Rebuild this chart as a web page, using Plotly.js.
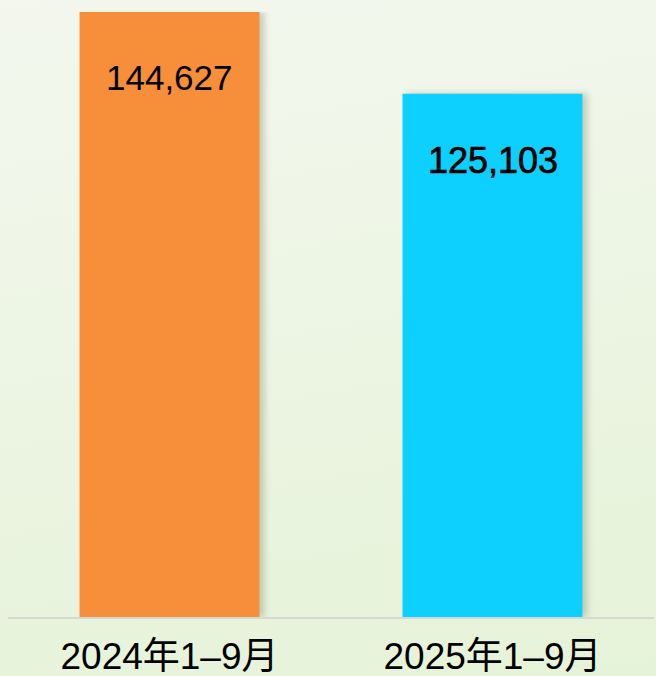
<!DOCTYPE html>
<html>
<head>
<meta charset="utf-8">
<script src="https://cdn.plot.ly/plotly-3.0.1.min.js"></script>
<style>
html, body { margin: 0; padding: 0; }
body { width: 656px; height: 676px; background: linear-gradient(170deg, #F3F7EE 0%, #EDF5E4 45%, #E5F3D8 100%); }
#chart { width: 656px; height: 676px; }
.trace.bars path { filter: drop-shadow(5px 0px 3px rgba(120,130,100,0.35)); }
g.annotation[data-index="1"] text { stroke: #000; stroke-width: 0.7px; }
</style>
</head>
<body>
<div id="chart"></div>
<script>
const categories = ["2024年1–9月", "2025年1–9月"];
const values = [144627, 125103];
const labels = ["144,627", "125,103"];
const colors = ["#F78F3A", "#0DD0FF"];
const labelSizes = [35, 36];

const FONT = "Liberation Sans, Arial, Noto Sans CJK SC, sans-serif";

const trace = {
  type: "bar",
  x: categories,
  y: values,
  marker: { color: colors, line: { width: 0 } },
  width: 0.557,
  hoverinfo: "none",
  textposition: "none"
};

const annotations = categories.map((c, i) => ({
  x: c, y: values[i], xref: "x", yref: "y",
  text: labels[i], showarrow: false,
  yanchor: "top", yshift: -44,
  font: { family: FONT, size: labelSizes[i], color: "#000" }
}));

const layout = {
  width: 656, height: 676,
  margin: { l: 8, r: 2, t: 12, b: 59 },
  paper_bgcolor: "rgba(0,0,0,0)",
  plot_bgcolor: "rgba(0,0,0,0)",
  showlegend: false,
  xaxis: {
    type: "category",
    range: [-0.5, 1.5],
    showline: true, linecolor: "#D6D9D3", linewidth: 2,
    showgrid: false, zeroline: false, ticks: "",
    ticklabelstandoff: 6,
    tickfont: { family: FONT, size: 37, color: "#000" },
    fixedrange: true
  },
  yaxis: {
    range: [0, 144627],
    visible: false, showgrid: false, zeroline: false,
    fixedrange: true
  },
  annotations: annotations
};

Plotly.newPlot("chart", [trace], layout, { displayModeBar: false, staticPlot: true });
</script>
</body>
</html>
